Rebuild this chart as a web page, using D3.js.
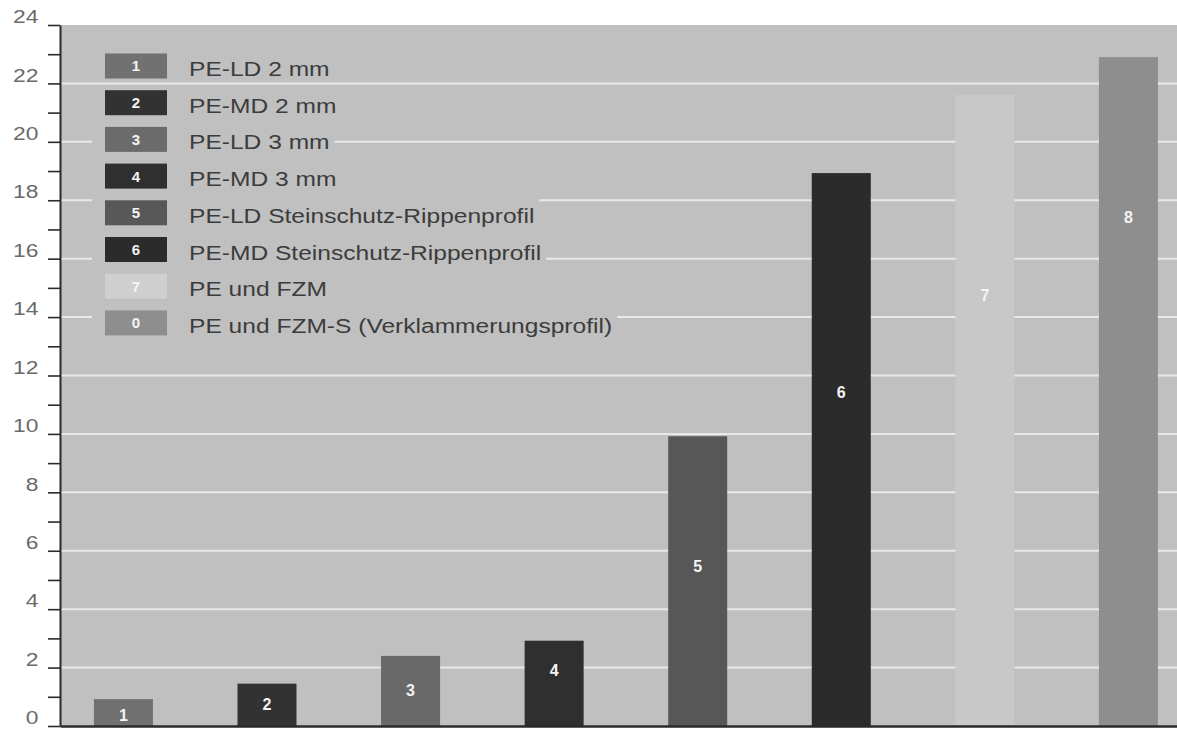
<!DOCTYPE html>
<html>
<head>
<meta charset="utf-8">
<script src="https://cdn.jsdelivr.net/npm/d3@7"></script>
<style>
  html, body { margin: 0; padding: 0; background: #ffffff; }
  svg { display: block; }
</style>
</head>
<body>
<svg id="chart" width="1177" height="729"></svg>
<script>
// ---- data ----
const categories = ["1", "2", "3", "4", "5", "6", "7", "8"];
const values = [0.92, 1.45, 2.4, 2.92, 9.92, 18.93, 21.6, 22.9];
const labelAt = [0.38, 0.75, 1.23, 1.92, 5.48, 11.44, 14.75, 17.43];
const barLabels = ["1", "2", "3", "4", "5", "6", "7", "8"];
const legendNumbers = ["1", "2", "3", "4", "5", "6", "7", "0"];
const legendNames = [
  "PE-LD 2 mm",
  "PE-MD 2 mm",
  "PE-LD 3 mm",
  "PE-MD 3 mm",
  "PE-LD Steinschutz-Rippenprofil",
  "PE-MD Steinschutz-Rippenprofil",
  "PE und FZM",
  "PE und FZM-S (Verklammerungsprofil)"
];
const yTicks = [0,1,2,3,4,5,6,7,8,9,10,11,12,13,14,15,16,17,18,19,20,21,22,23,24];
const gridValues = [2,4,6,8,10,12,14,16,18,20,22];
const barColors = ["#707070", "#323232", "#696969", "#2f2f2f", "#575757", "#2b2b2b", "#c8c8c8", "#8e8e8e"];
const legendColors = ["#717171", "#323232", "#6b6b6b", "#2f2f2f", "#585858", "#2b2b2b", "#cfcfcf", "#8e8e8e"];

(function () {
// ---- layout ----
const mLeft = 60, mRight = 1177, mTop = 25, mBottom = 726;
const bg = "#c0c0c0";
const svg = d3.select("#chart");

const x = d3.scaleBand()
  .domain(categories)
  .range([mLeft, mRight])
  .paddingInner(0.589)
  .paddingOuter(0.1845)
  .align(0.64);

const y = d3.scaleLinear().domain([0, 24]).range([mBottom, mTop]);

// plot background
svg.append("rect")
  .attr("x", mLeft).attr("y", y(24))
  .attr("width", mRight - mLeft).attr("height", y(0) - y(24))
  .attr("fill", bg);

// gridlines
svg.append("g").selectAll("line")
  .data(gridValues)
  .join("line")
  .attr("x1", mLeft).attr("x2", mRight)
  .attr("y1", d => y(d)).attr("y2", d => y(d))
  .attr("stroke", "#e9e9e9")
  .attr("stroke-width", 2);

// bars
svg.append("g").selectAll("rect")
  .data(values)
  .join("rect")
  .attr("x", (d, i) => x(categories[i]))
  .attr("width", x.bandwidth())
  .attr("y", d => y(d))
  .attr("height", d => y(0) - y(d))
  .attr("fill", (d, i) => barColors[i]);

// bar labels
svg.append("g").selectAll("text")
  .data(labelAt)
  .join("text")
  .attr("x", (d, i) => x(categories[i]) + x.bandwidth() / 2)
  .attr("y", d => y(d))
  .attr("dy", "0.36em")
  .attr("text-anchor", "middle")
  .attr("font-family", "Liberation Sans, Arial, sans-serif")
  .attr("font-weight", "bold")
  .attr("font-size", 16)
  .attr("fill", "#f4f4f4")
  .text((d, i) => barLabels[i]);

// legend
const legendX = 105, swW = 62, swH = 25, textX = 189, row0 = 66, rowStep = 36.7, sx = 1.17;
const lg = svg.append("g");
legendNames.forEach((name, i) => {
  const cy = row0 + i * rowStep;
  const boxBg = lg.append("rect").attr("fill", bg);
  lg.append("rect")
    .attr("x", legendX).attr("y", cy - swH / 2)
    .attr("width", swW).attr("height", swH)
    .attr("fill", legendColors[i]);
  lg.append("text")
    .attr("x", legendX + swW / 2).attr("y", cy)
    .attr("dy", "0.36em")
    .attr("text-anchor", "middle")
    .attr("font-family", "Liberation Sans, Arial, sans-serif")
    .attr("font-weight", "bold")
    .attr("font-size", 15)
    .attr("fill", "#f4f4f4")
    .text(legendNumbers[i]);
  const t = lg.append("text")
    .attr("transform", `translate(${textX},${cy + 10}) scale(${sx},1)`)
    .attr("font-family", "Liberation Sans, Arial, sans-serif")
    .attr("font-size", 21)
    .attr("fill", "#3c3c3c")
    .text(name);
  const len = t.node().getComputedTextLength() * sx;
  boxBg.attr("x", 92).attr("y", cy - 15)
    .attr("width", textX + len + 5 - 92).attr("height", 30);
});

// y axis
const yAxis = d3.axisLeft(y)
  .tickValues(yTicks)
  .tickSize(12)
  .tickSizeOuter(0)
  .tickPadding(6)
  .tickFormat(d => d % 2 === 0 ? String(d) : "");
const ya = svg.append("g")
  .attr("transform", `translate(${mLeft},0)`)
  .call(yAxis);
ya.select(".domain").attr("stroke", "#2a2a2a").attr("stroke-width", 2);
ya.selectAll(".tick line").attr("stroke", "#2a2a2a").attr("stroke-width", 1.6);
ya.selectAll(".tick text")
  .attr("font-family", "Liberation Sans, Arial, sans-serif")
  .attr("font-size", 19)
  .attr("fill", "#6a6a6a")
  .attr("dy", "-0.12em")
  .attr("transform", "scale(1.2,1)");

// x axis (baseline only)
const xAxis = d3.axisBottom(x).tickSize(0).tickSizeOuter(0).tickFormat("");
const xa = svg.append("g")
  .attr("transform", `translate(0,${y(0)})`)
  .call(xAxis);
xa.select(".domain").attr("stroke", "#2a2a2a").attr("stroke-width", 2.5);
})();
</script>
</body>
</html>
